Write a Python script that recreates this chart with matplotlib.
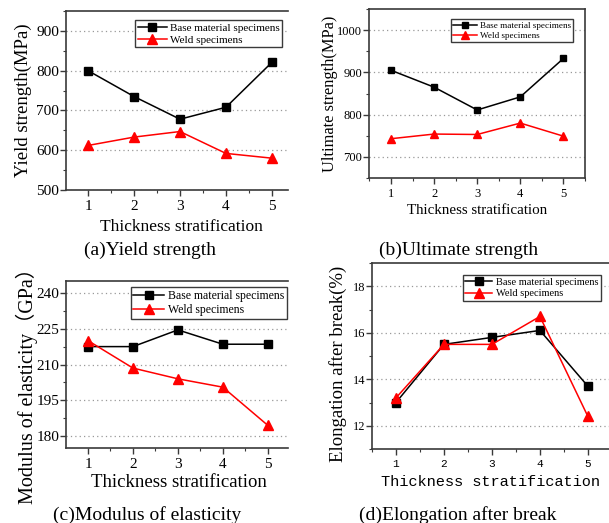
import matplotlib
matplotlib.use("Agg")
import matplotlib.pyplot as plt
from matplotlib.ticker import MultipleLocator

plt.rcParams['font.family'] = ['Liberation Serif', 'Noto Sans CJK SC', 'DejaVu Sans']
plt.rcParams['mathtext.fontset'] = 'stix'

layers = [1, 2, 3, 4, 5]

yield_base = [800, 735, 678, 708, 821]
yield_weld = [612, 633, 647, 592, 580]

ultimate_base = [905, 865, 811, 842, 933]
ultimate_weld = [743, 754, 753, 780, 749]

modulus_base = [217.5, 217.5, 224.5, 218.5, 218.5]
modulus_weld = [220.0, 208.5, 204.0, 200.5, 184.5]

elong_base = [13.0, 15.5, 15.8, 16.1, 13.7]
elong_weld = [13.2, 15.5, 15.5, 16.7, 12.4]

W, H = 609, 523
SPINE = '#3a3a3a'


def px_box(left, top, right, bottom):
    return [left / W, 1 - bottom / H, (right - left) / W, (bottom - top) / H]


def make_panel(fig, box, base, weld, ylim, xlim, major, ylabel, ylabel_pos,
               xlabel_pos, sizes, legend_anchor, right_spine=True, mono_x=False):
    ax = fig.add_axes(px_box(*box))
    lab_fs, tick_fs, leg_fs, ms = sizes
    ax.plot(layers, base, color='black', marker='s', ms=ms, lw=1.1,
            label='Base material specimens', zorder=3)
    ax.plot(layers, weld, color='#ff0000', marker='^', ms=ms + 1, lw=1.1,
            label='Weld specimens', zorder=3)
    ax.set_xlim(*xlim)
    ax.set_ylim(*ylim)
    ax.xaxis.set_major_locator(MultipleLocator(1))
    ax.xaxis.set_minor_locator(MultipleLocator(0.5))
    ax.yaxis.set_major_locator(MultipleLocator(major))
    ax.yaxis.set_minor_locator(MultipleLocator(major / 2))
    ax.grid(axis='y', which='major', linestyle=(0, (1, 2.5)), color='#999999', lw=0.9)
    for side, sp in ax.spines.items():
        sp.set_color(SPINE)
        sp.set_linewidth(1.2)
    ax.spines['right'].set_visible(right_spine)
    ax.tick_params(which='both', direction='out', color=SPINE, top=False, right=False)
    ax.tick_params(which='major', length=4, width=1)
    ax.tick_params(which='minor', length=2.5, width=0.8)
    ax.tick_params(axis='y', labelsize=tick_fs, pad=1)
    if mono_x:
        ax.tick_params(axis='x', labelsize=tick_fs - 1, pad=3)
        for t in ax.get_xticklabels():
            t.set_family('Liberation Mono')
        ax.set_xlabel('Thickness stratification', family='Liberation Mono',
                      fontsize=lab_fs - 1.5, va='center')
    else:
        ax.tick_params(axis='x', labelsize=tick_fs, pad=3)
        ax.set_xlabel('Thickness stratification', fontsize=lab_fs, va='center')
    ax.xaxis.set_label_coords(*xlabel_pos)
    ax.set_ylabel(ylabel, fontsize=lab_fs + 1, va='center')
    ax.yaxis.set_label_coords(*ylabel_pos)
    leg = ax.legend(loc='upper right', bbox_to_anchor=legend_anchor, fontsize=leg_fs,
                    frameon=True, fancybox=False, edgecolor=SPINE, framealpha=1,
                    borderpad=0.25, labelspacing=0.2, handlelength=2.6,
                    handletextpad=0.3, borderaxespad=0)
    leg.get_frame().set_linewidth(1.0)
    return ax


fig = plt.figure(figsize=(W / 100, H / 100), dpi=100)

make_panel(fig, (66, 11, 288, 190), yield_base, yield_weld, (500, 950), (0.52, 5.35), 100,
           'Yield strength(MPa)', (-0.19, 0.5), (0.52, -0.205), (12.5, 11, 8, 5.5),
           (0.975, 0.95), right_spine=False)

make_panel(fig, (369, 9, 585, 178), ultimate_base, ultimate_weld, (650, 1050), (0.49, 5.5), 100,
           'Ultimate strength(MPa)', (-0.18, 0.5), (0.5, -0.195), (10.8, 9, 6.6, 5),
           (0.945, 0.94))

make_panel(fig, (66, 281, 288, 448), modulus_base, modulus_weld, (175, 245), (0.51, 5.45), 15,
           'Modulus of elasticity（GPa）', (-0.176, 0.40), (0.507, -0.205), (13.5, 11, 8.5, 6),
           (0.995, 0.964), right_spine=False)

make_panel(fig, (372, 263, 609, 449), elong_base, elong_weld, (11, 19), (0.5, 5.44), 2,
           'Elongation after break(%)', (-0.143, 0.457), (0.5, -0.177), (12.5, 9, 7.5, 5.5),
           (0.965, 0.935), right_spine=False, mono_x=True)

captions = [
    ('(a)Yield strength', 150, 250),
    ('(b)Ultimate strength', 459, 250),
    ('(c)Modulus of elasticity', 147, 515),
    ('(d)Elongation after break', 458, 515),
]
for text, x, y in captions:
    fig.text(x / W, 1 - y / H, text, ha='center', va='center', fontsize=14)

fig.savefig('out.png', dpi=100)
